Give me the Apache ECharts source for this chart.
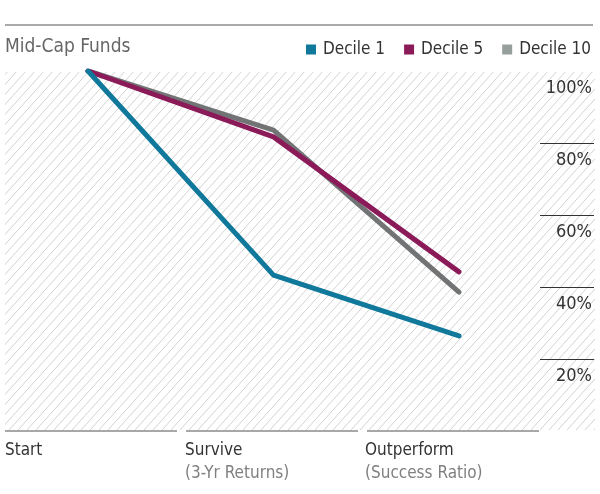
<!DOCTYPE html>
<html>
<head>
<meta charset="utf-8">
<script src="https://cdn.jsdelivr.net/npm/echarts@6/dist/echarts.min.js"></script>
<style>
html,body{margin:0;padding:0;background:#fff;}
#chart{width:600px;height:494px;}
</style>
</head>
<body>
<div id="chart"></div>
<script>
const categories = ['Start', 'Survive', 'Outperform'];
const subLabels = ['', '(3-Yr Returns)', '(Success Ratio)'];
const seriesNames = ['Decile 1', 'Decile 5', 'Decile 10'];
const decile1 = [100, 43.3, 26.4];
const decile5 = [100, 81.7, 44.2];
const decile10 = [100, 83.6, 38.6];
const yTicks = [0, 20, 40, 60, 80, 100];

const FONT = "'DejaVu Sans Condensed', 'Liberation Sans Narrow', sans-serif";
const colors = { 'Decile 1': '#10789a', 'Decile 5': '#8b1a59', 'Decile 10': '#727374' };
const legendColors = { 'Decile 1': '#10789a', 'Decile 5': '#8b1a59', 'Decile 10': '#969f9c' };

// hatch pattern
const tile = document.createElement('canvas');
tile.width = 9; tile.height = 10;
const tc = tile.getContext('2d');
tc.strokeStyle = '#d2d2d2';
tc.lineWidth = 1;
tc.beginPath();
tc.moveTo(-0.9, 11); tc.lineTo(9.9, -1);
tc.stroke();

const chart = echarts.init(document.getElementById('chart'), null, { renderer: 'canvas' });

const valueSets = [decile1, decile5, decile10];
const drawOrder = [2, 1, 0];

const option = {
  animation: false,
  backgroundColor: '#fff',
  textStyle: { fontFamily: FONT },
  title: {
    text: 'Mid-Cap Funds',
    left: 0, top: 33,
    textStyle: { fontFamily: FONT, fontSize: 19, fontWeight: 'normal', color: '#666' }
  },
  legend: {
    right: 4, top: 36,
    icon: 'rect', itemWidth: 10, itemHeight: 10, itemGap: 19,
    textStyle: { fontFamily: FONT, fontSize: 17, color: '#333', padding: [0, 0, 0, 2] },
    data: seriesNames.map(n => ({ name: n, itemStyle: { color: legendColors[n] } }))
  },
  graphic: {
    elements: [
      { type: 'rect', z: -10, shape: { x: 5, y: 72, width: 590, height: 358 },
        style: { fill: { image: tile, repeat: 'repeat' } }, silent: true },
      { type: 'line', shape: { x1: 5, y1: 25, x2: 593, y2: 25 }, style: { stroke: '#8c8c8c', lineWidth: 1.5 }, silent: true },
      { type: 'line', shape: { x1: 5, y1: 431, x2: 177, y2: 431 }, style: { stroke: '#a8a8a8', lineWidth: 2 }, silent: true },
      { type: 'line', shape: { x1: 186, y1: 431, x2: 358, y2: 431 }, style: { stroke: '#a8a8a8', lineWidth: 2 }, silent: true },
      { type: 'line', shape: { x1: 367, y1: 431, x2: 539, y2: 431 }, style: { stroke: '#a8a8a8', lineWidth: 2 }, silent: true }
    ]
  },
  grid: [
    { left: 88, right: 141, top: 71, bottom: 63 },
    { left: 540, right: 6, top: 71, bottom: 63 },
    { left: 4, right: 56, top: 71, bottom: 63 }
  ],
  xAxis: [
    { type: 'value', gridIndex: 0, min: 0, max: 2, show: false },
    { type: 'value', gridIndex: 1, min: 0, max: 1, show: false },
    {
      type: 'category', gridIndex: 2, boundaryGap: false,
      data: categories.concat(['']),
      axisLine: { show: false }, axisTick: { show: false },
      axisLabel: {
        align: 'left', margin: 8, interval: 0,
        formatter: function (v, i) {
          if (!v) return '';
          return subLabels[i] ? '{a|' + v + '}\n{b|' + subLabels[i] + '}' : '{a|' + v + '}';
        },
        rich: {
          a: { fontFamily: FONT, fontSize: 17, color: '#333', lineHeight: 23, padding: [0, 0, 0, 1] },
          b: { fontFamily: FONT, fontSize: 17, color: '#808080', lineHeight: 23, padding: [0, 0, 0, 1] }
        }
      }
    }
  ],
  yAxis: [
    { type: 'value', gridIndex: 0, min: 0, max: 100, show: false },
    {
      type: 'value', gridIndex: 1, min: 0, max: 100, interval: 20, position: 'right',
      axisLine: { show: false }, axisTick: { show: false },
      splitLine: { show: true, showMinLine: false, showMaxLine: false, lineStyle: { color: '#333', width: 1 } },
      axisLabel: {
        inside: true, margin: 2, align: 'right', verticalAlign: 'top',
        showMinLabel: false, padding: [8, 0, 0, 0],
        fontFamily: FONT, fontSize: 18, color: '#333',
        formatter: function (v) { return v + '%'; }
      }
    },
    { type: 'value', gridIndex: 2, min: 0, max: 100, show: false }
  ],
  series: drawOrder.map(idx => ({
    name: seriesNames[idx],
    type: 'line',
    xAxisIndex: 0, yAxisIndex: 0,
    data: valueSets[idx].map((v, i) => [i, v]),
    symbol: 'none',
    color: colors[seriesNames[idx]],
    lineStyle: { width: 5, color: colors[seriesNames[idx]], cap: 'round', join: 'round' },
    z: 5 + (2 - idx)
  })).concat([{
    type: 'line', xAxisIndex: 1, yAxisIndex: 1, data: [], silent: true
  }])
};
chart.setOption(option);
</script>
</body>
</html>
